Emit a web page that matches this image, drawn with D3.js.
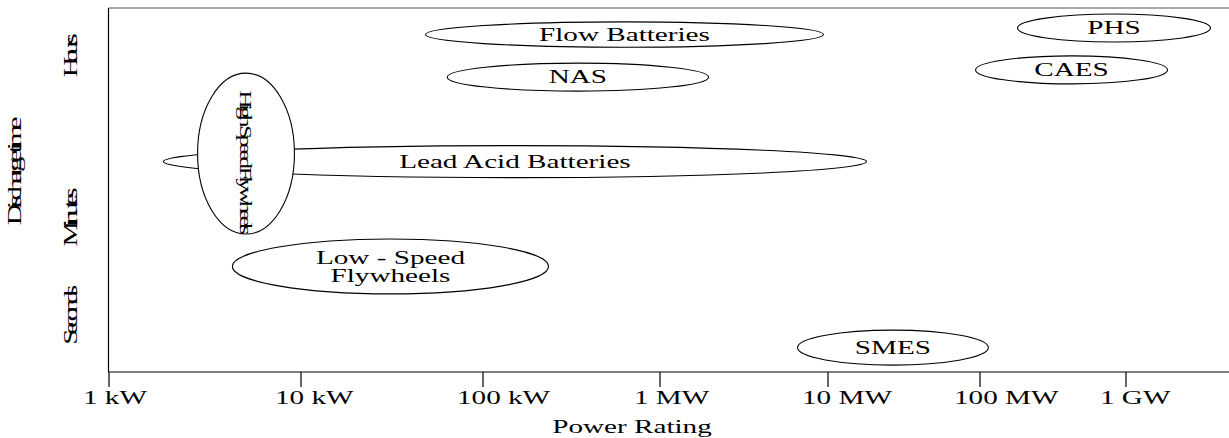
<!DOCTYPE html>
<html>
<head>
<meta charset="utf-8">
<script src="https://cdn.jsdelivr.net/npm/d3@7"></script>
<style>
  body { margin: 0; background: #fff; }
  text { font-family: "Liberation Serif", "Times New Roman", serif; fill: #000; }
</style>
</head>
<body>
<svg id="chart" width="1229" height="438"></svg>
<script>
// Power rating ticks (kW)
var powerTicks = [1, 10, 100, 1e3, 1e4, 1e5, 1e6];
var powerLabels = ['1 kW', '10 kW', '100 kW', '1 MW', '10 MW', '100 MW', '1 GW'];

// Discharge time ticks (relative level, 0 = bottom, 10 = top)
var durationTicks = [8.7, 4.26, 1.57];
var durationLabels = ['Hours', 'Minutes', 'Seconds'];

// Technologies: power range (kW) and discharge time band
var technologies = ['Lead Acid Batteries', 'Flow Batteries', 'NAS', 'PHS', 'CAES',
                    'High Speed Flywheels', 'Low - Speed|Flywheels', 'SMES'];
var powerMin = [1.93, 48.6, 64, 182000, 94200, 2.91, 4.42, 6630];
var powerMax = [18070, 9460, 1960, 3.82e6, 1.94e6, 9.3, 236, 115000];
var durationMid = [5.78, 9.27, 8.10, 9.45, 8.30, 6.0, 2.90, 0.67];
var durationSpread = [0.44, 0.35, 0.385, 0.385, 0.385, 2.21, 0.755, 0.48];

// Layout
var width = 1229;
var height = 438;
var margin = { top: 8, left: 108.5, bottom: 66 };
var plotBottom = height - margin.bottom;
var decadeWidths = [192, 182, 177, 168, 152, 146];
var fontSize = 18;
var lineGap = 18;
var widen = 1.62;

var svg = d3.select('#chart');

// The axis is hand spaced: decades get slightly narrower to the right
var xRange = [margin.left];
decadeWidths.forEach(function (w, i) { xRange.push(xRange[i] + w); });
var x = d3.scaleLog().domain(powerTicks).range(xRange);
var y = d3.scaleLinear().domain([0, 10]).range([plotBottom, margin.top]);

function stretch(sel, k) {
  sel.each(function () {
    var len = this.getComputedTextLength();
    d3.select(this)
      .attr('textLength', len * k)
      .attr('lengthAdjust', 'spacingAndGlyphs');
  });
}

// wide glyphs on a natural advance, so the letters run into each other
function squeeze(sel, k) {
  sel.each(function () {
    var t = d3.select(this);
    var len = this.getComputedTextLength();
    t.attr('transform', t.attr('transform') + ' scale(' + k + ',1)')
     .attr('textLength', len / k)
     .attr('lengthAdjust', 'spacing');
  });
}

// Frame
svg.append('line')
   .attr('x1', margin.left).attr('x2', width)
   .attr('y1', margin.top).attr('y2', margin.top)
   .attr('stroke', '#8a8a8a').attr('stroke-width', 1.5);
svg.append('line')
   .attr('x1', margin.left).attr('x2', margin.left)
   .attr('y1', margin.top).attr('y2', plotBottom)
   .attr('stroke', '#000').attr('stroke-width', 1.2);

// X axis
var xAxis = d3.axisBottom(x)
              .tickValues(powerTicks)
              .tickFormat(function (d, i) { return powerLabels[i]; })
              .tickSize(15);
var gx = svg.append('g')
            .attr('transform', 'translate(0,' + plotBottom + ')')
            .call(xAxis);
gx.select('.domain').remove();
gx.append('line')
  .attr('x1', margin.left).attr('x2', width)
  .attr('stroke', '#000').attr('stroke-width', 1.2);
gx.selectAll('.tick line').attr('stroke', '#000').attr('stroke-width', 1.2);
gx.selectAll('.tick text')
  .attr('y', 32)
  .attr('dy', 0)
  .attr('dx', -26)
  .attr('text-anchor', 'start')
  .attr('font-size', fontSize)
  .style('font-family', '"Liberation Serif", serif')
  .call(stretch, widen);

svg.append('text')
   .attr('x', 632)
   .attr('y', 433)
   .attr('text-anchor', 'middle')
   .attr('font-size', fontSize)
   .text('Power Rating')
   .call(stretch, widen);

// Y labels
svg.selectAll('.ylabel')
   .data(durationTicks)
   .enter()
   .append('text')
   .attr('class', 'ylabel')
   .attr('transform', function (d) {
     return 'translate(77,' + y(d) + ') rotate(-90)';
   })
   .attr('text-anchor', 'middle')
   .attr('font-size', fontSize)
   .text(function (d, i) { return durationLabels[i]; })
   .call(squeeze, 1.6);

svg.append('text')
   .attr('transform', 'translate(21,171) rotate(-90)')
   .attr('text-anchor', 'middle')
   .attr('font-size', fontSize)
   .text('Discharge time')
   .call(squeeze, 1.7);

// Ellipses
var techs = technologies.map(function (name, i) {
  var x0 = x(powerMin[i]);
  var x1 = x(powerMax[i]);
  return {
    name: name,
    cx: (x0 + x1) / 2,
    rx: (x1 - x0) / 2,
    cy: y(durationMid[i]),
    ry: y(durationMid[i] - durationSpread[i]) - y(durationMid[i])
  };
});

var tech = svg.selectAll('.tech')
              .data(techs)
              .enter()
              .append('g')
              .attr('class', 'tech');

tech.append('ellipse')
    .attr('cx', function (d) { return d.cx; })
    .attr('cy', function (d) { return d.cy; })
    .attr('rx', function (d) { return d.rx; })
    .attr('ry', function (d) { return d.ry; })
    .attr('fill', '#fff')
    .attr('stroke', '#000')
    .attr('stroke-width', 1.1);

// Horizontal labels
tech.filter(function (d) { return d.rx > d.ry; })
    .each(function (d) {
      var lines = d.name.split('|');
      var t = d3.select(this).append('text')
                .attr('text-anchor', 'middle')
                .attr('font-size', fontSize);
      lines.forEach(function (line, j) {
        t.append('tspan')
         .attr('x', d.cx)
         .attr('y', d.cy + (j - (lines.length - 1) / 2) * lineGap)
         .attr('dy', '0.35em')
         .text(line)
         .call(stretch, widen);
      });
    });

// Vertical label (high speed flywheels)
tech.filter(function (d) { return d.rx <= d.ry; })
    .append('text')
    .attr('transform', function (d) {
      return 'translate(' + (d.cx - 6) + ',' + (d.cy + 9) + ') rotate(90)';
    })
    .attr('text-anchor', 'middle')
    .attr('font-size', 16)
    .text(function (d) { return d.name; })
    .call(squeeze, 1.6);
</script>
</body>
</html>
